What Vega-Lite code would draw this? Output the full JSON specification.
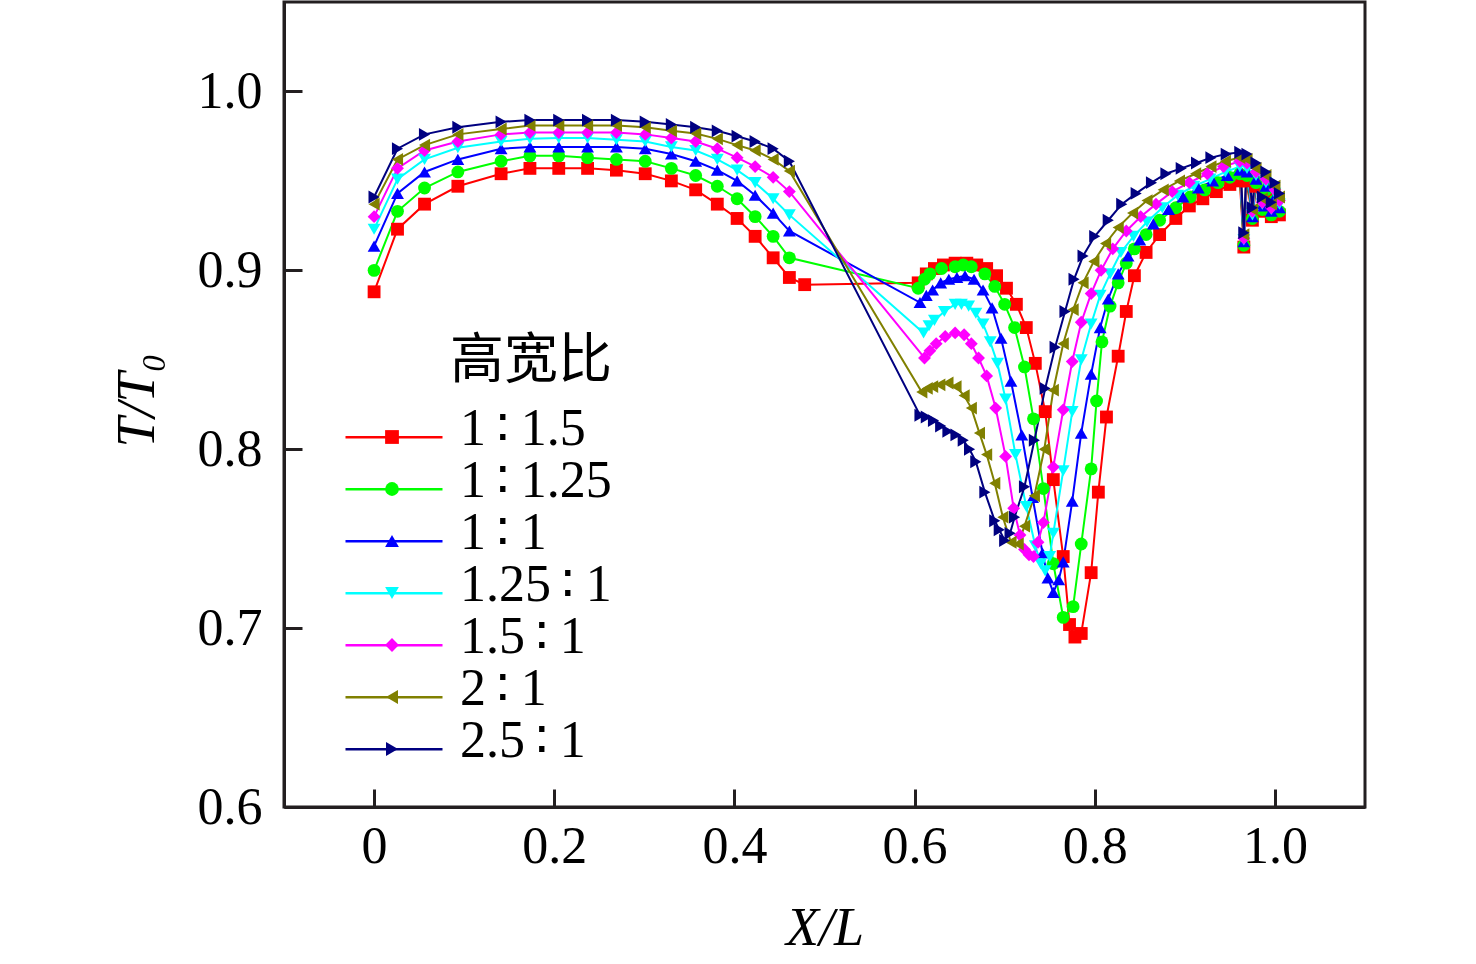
{
  "$schema": "https://vega.github.io/schema/vega-lite/v6.json",
  "width": 1081,
  "height": 805,
  "autosize": {"type": "none"},
  "padding": {"left": 284, "top": 2, "right": 111, "bottom": 157},
  "background": "white",
  "config": {
    "view": {"stroke": "#231f20", "strokeWidth": 3},
    "axis": {
      "grid": false,
      "domainColor": "#231f20",
      "domainWidth": 3,
      "tickColor": "#231f20",
      "tickWidth": 3,
      "tickSize": -18,
      "labelFont": "Liberation Serif",
      "labelFontSize": 52,
      "labelColor": "black",
      "labelFlush": false,
      "titleFont": "Liberation Serif",
      "titleFontSize": 54,
      "titleFontStyle": "italic",
      "titleFontWeight": "normal",
      "titleColor": "black"
    }
  },
  "data": {
    "values": [
      {"s":"a","x":0,"y":0.888},{"s":"a","x":0.026,"y":0.923},{"s":"a","x":0.056,"y":0.937},{"s":"a","x":0.093,"y":0.947},{"s":"a","x":0.141,"y":0.954},{"s":"a","x":0.173,"y":0.957},{"s":"a","x":0.205,"y":0.957},{"s":"a","x":0.237,"y":0.957},{"s":"a","x":0.269,"y":0.956},{"s":"a","x":0.301,"y":0.954},{"s":"a","x":0.33,"y":0.95},{"s":"a","x":0.357,"y":0.945},{"s":"a","x":0.381,"y":0.937},{"s":"a","x":0.403,"y":0.929},{"s":"a","x":0.423,"y":0.919},{"s":"a","x":0.443,"y":0.907},{"s":"a","x":0.461,"y":0.896},{"s":"a","x":0.478,"y":0.892},{"s":"a","x":0.604,"y":0.893},
      {"s":"a","x":0.613,"y":0.898},{"s":"a","x":0.622,"y":0.901},{"s":"a","x":0.632,"y":0.903},{"s":"a","x":0.645,"y":0.904},{"s":"a","x":0.658,"y":0.904},{"s":"a","x":0.669,"y":0.903},{"s":"a","x":0.68,"y":0.901},{"s":"a","x":0.691,"y":0.897},{"s":"a","x":0.702,"y":0.89},{"s":"a","x":0.713,"y":0.881},{"s":"a","x":0.724,"y":0.868},{"s":"a","x":0.734,"y":0.848},{"s":"a","x":0.745,"y":0.821},{"s":"a","x":0.754,"y":0.783},{"s":"a","x":0.765,"y":0.74},{"s":"a","x":0.772,"y":0.702},{"s":"a","x":0.778,"y":0.695},{"s":"a","x":0.785,"y":0.697},{"s":"a","x":0.796,"y":0.731},{"s":"a","x":0.804,"y":0.776},{"s":"a","x":0.813,"y":0.818},{"s":"a","x":0.826,"y":0.852},{"s":"a","x":0.835,"y":0.877},{"s":"a","x":0.844,"y":0.897},{"s":"a","x":0.857,"y":0.91},{"s":"a","x":0.872,"y":0.92},{"s":"a","x":0.89,"y":0.929},{"s":"a","x":0.905,"y":0.936},{"s":"a","x":0.92,"y":0.94},{"s":"a","x":0.935,"y":0.944},{"s":"a","x":0.95,"y":0.948},{"s":"a","x":0.961,"y":0.95},
      {"s":"a","x":0.9655,"y":0.913},{"s":"a","x":0.969,"y":0.95},{"s":"a","x":0.975,"y":0.928},{"s":"a","x":0.979,"y":0.947},{"s":"a","x":0.986,"y":0.933},{"s":"a","x":0.99,"y":0.943},{"s":"a","x":0.996,"y":0.93},{"s":"a","x":1.0,"y":0.937},{"s":"a","x":1.005,"y":0.931},

      {"s":"b","x":0,"y":0.9},{"s":"b","x":0.026,"y":0.933},{"s":"b","x":0.056,"y":0.946},{"s":"b","x":0.093,"y":0.955},{"s":"b","x":0.141,"y":0.961},{"s":"b","x":0.173,"y":0.964},{"s":"b","x":0.205,"y":0.964},{"s":"b","x":0.237,"y":0.963},{"s":"b","x":0.269,"y":0.962},{"s":"b","x":0.301,"y":0.961},{"s":"b","x":0.33,"y":0.957},{"s":"b","x":0.357,"y":0.953},{"s":"b","x":0.381,"y":0.947},{"s":"b","x":0.403,"y":0.94},{"s":"b","x":0.423,"y":0.93},{"s":"b","x":0.443,"y":0.919},{"s":"b","x":0.461,"y":0.907},
      {"s":"b","x":0.604,"y":0.89},{"s":"b","x":0.611,"y":0.895},{"s":"b","x":0.617,"y":0.898},{"s":"b","x":0.63,"y":0.901},{"s":"b","x":0.645,"y":0.902},{"s":"b","x":0.654,"y":0.903},{"s":"b","x":0.663,"y":0.902},{"s":"b","x":0.678,"y":0.898},{"s":"b","x":0.689,"y":0.891},{"s":"b","x":0.7,"y":0.881},{"s":"b","x":0.711,"y":0.868},{"s":"b","x":0.722,"y":0.846},{"s":"b","x":0.732,"y":0.817},{"s":"b","x":0.743,"y":0.778},{"s":"b","x":0.754,"y":0.736},{"s":"b","x":0.765,"y":0.706},{"s":"b","x":0.776,"y":0.712},{"s":"b","x":0.785,"y":0.747},{"s":"b","x":0.796,"y":0.789},{"s":"b","x":0.802,"y":0.827},{"s":"b","x":0.808,"y":0.86},{"s":"b","x":0.817,"y":0.88},{"s":"b","x":0.826,"y":0.893},{"s":"b","x":0.835,"y":0.904},{"s":"b","x":0.844,"y":0.912},{"s":"b","x":0.857,"y":0.92},{"s":"b","x":0.872,"y":0.928},{"s":"b","x":0.89,"y":0.935},{"s":"b","x":0.906,"y":0.941},{"s":"b","x":0.922,"y":0.945},{"s":"b","x":0.937,"y":0.949},{"s":"b","x":0.95,"y":0.952},{"s":"b","x":0.961,"y":0.954},
      {"s":"b","x":0.9655,"y":0.914},{"s":"b","x":0.969,"y":0.953},{"s":"b","x":0.975,"y":0.929},{"s":"b","x":0.979,"y":0.949},{"s":"b","x":0.986,"y":0.934},{"s":"b","x":0.99,"y":0.945},{"s":"b","x":0.996,"y":0.931},{"s":"b","x":1.0,"y":0.939},{"s":"b","x":1.005,"y":0.933},

      {"s":"c","x":0,"y":0.9135},{"s":"c","x":0.026,"y":0.943},{"s":"c","x":0.056,"y":0.955},{"s":"c","x":0.093,"y":0.962},{"s":"c","x":0.141,"y":0.968},{"s":"c","x":0.173,"y":0.969},{"s":"c","x":0.205,"y":0.969},{"s":"c","x":0.237,"y":0.969},{"s":"c","x":0.269,"y":0.969},{"s":"c","x":0.301,"y":0.968},{"s":"c","x":0.33,"y":0.965},{"s":"c","x":0.357,"y":0.961},{"s":"c","x":0.381,"y":0.956},{"s":"c","x":0.403,"y":0.95},{"s":"c","x":0.423,"y":0.942},{"s":"c","x":0.443,"y":0.932},{"s":"c","x":0.461,"y":0.922},
      {"s":"c","x":0.606,"y":0.882},{"s":"c","x":0.613,"y":0.886},{"s":"c","x":0.62,"y":0.889},{"s":"c","x":0.629,"y":0.893},{"s":"c","x":0.638,"y":0.895},{"s":"c","x":0.647,"y":0.896},{"s":"c","x":0.656,"y":0.897},{"s":"c","x":0.666,"y":0.895},{"s":"c","x":0.676,"y":0.889},{"s":"c","x":0.686,"y":0.879},{"s":"c","x":0.696,"y":0.862},{"s":"c","x":0.707,"y":0.838},{"s":"c","x":0.719,"y":0.808},{"s":"c","x":0.731,"y":0.773},{"s":"c","x":0.742,"y":0.742},{"s":"c","x":0.748,"y":0.728},{"s":"c","x":0.754,"y":0.72},{"s":"c","x":0.76,"y":0.727},{"s":"c","x":0.765,"y":0.737},{"s":"c","x":0.775,"y":0.771},{"s":"c","x":0.785,"y":0.809},{"s":"c","x":0.796,"y":0.842},{"s":"c","x":0.806,"y":0.868},{"s":"c","x":0.815,"y":0.884},{"s":"c","x":0.826,"y":0.898},{"s":"c","x":0.837,"y":0.908},{"s":"c","x":0.85,"y":0.917},{"s":"c","x":0.865,"y":0.926},{"s":"c","x":0.882,"y":0.934},{"s":"c","x":0.898,"y":0.941},{"s":"c","x":0.915,"y":0.946},{"s":"c","x":0.931,"y":0.95},{"s":"c","x":0.947,"y":0.953},{"s":"c","x":0.961,"y":0.956},
      {"s":"c","x":0.9655,"y":0.916},{"s":"c","x":0.969,"y":0.955},{"s":"c","x":0.975,"y":0.93},{"s":"c","x":0.979,"y":0.951},{"s":"c","x":0.986,"y":0.936},{"s":"c","x":0.99,"y":0.947},{"s":"c","x":0.996,"y":0.933},{"s":"c","x":1.0,"y":0.941},{"s":"c","x":1.005,"y":0.935},

      {"s":"d","x":0,"y":0.923},{"s":"d","x":0.026,"y":0.951},{"s":"d","x":0.056,"y":0.962},{"s":"d","x":0.093,"y":0.9685},{"s":"d","x":0.141,"y":0.972},{"s":"d","x":0.173,"y":0.9735},{"s":"d","x":0.205,"y":0.974},{"s":"d","x":0.237,"y":0.974},{"s":"d","x":0.269,"y":0.973},{"s":"d","x":0.301,"y":0.972},{"s":"d","x":0.33,"y":0.969},{"s":"d","x":0.357,"y":0.967},{"s":"d","x":0.381,"y":0.962},{"s":"d","x":0.403,"y":0.956},{"s":"d","x":0.423,"y":0.949},{"s":"d","x":0.443,"y":0.94},{"s":"d","x":0.461,"y":0.931},
      {"s":"d","x":0.61,"y":0.865},{"s":"d","x":0.616,"y":0.869},{"s":"d","x":0.622,"y":0.872},{"s":"d","x":0.633,"y":0.877},{"s":"d","x":0.645,"y":0.881},{"s":"d","x":0.652,"y":0.881},{"s":"d","x":0.66,"y":0.88},{"s":"d","x":0.668,"y":0.876},{"s":"d","x":0.676,"y":0.87},{"s":"d","x":0.684,"y":0.86},{"s":"d","x":0.692,"y":0.848},{"s":"d","x":0.701,"y":0.828},{"s":"d","x":0.712,"y":0.797},{"s":"d","x":0.724,"y":0.768},{"s":"d","x":0.734,"y":0.746},{"s":"d","x":0.74,"y":0.736},{"s":"d","x":0.745,"y":0.732},{"s":"d","x":0.75,"y":0.74},{"s":"d","x":0.754,"y":0.753},{"s":"d","x":0.765,"y":0.788},{"s":"d","x":0.775,"y":0.821},{"s":"d","x":0.785,"y":0.85},{"s":"d","x":0.796,"y":0.87},{"s":"d","x":0.806,"y":0.886},{"s":"d","x":0.817,"y":0.898},{"s":"d","x":0.829,"y":0.91},{"s":"d","x":0.843,"y":0.919},{"s":"d","x":0.858,"y":0.927},{"s":"d","x":0.875,"y":0.935},{"s":"d","x":0.892,"y":0.942},{"s":"d","x":0.91,"y":0.947},{"s":"d","x":0.928,"y":0.951},{"s":"d","x":0.945,"y":0.955},{"s":"d","x":0.961,"y":0.958},
      {"s":"d","x":0.9655,"y":0.917},{"s":"d","x":0.969,"y":0.957},{"s":"d","x":0.975,"y":0.931},{"s":"d","x":0.979,"y":0.953},{"s":"d","x":0.986,"y":0.937},{"s":"d","x":0.99,"y":0.949},{"s":"d","x":0.996,"y":0.934},{"s":"d","x":1.0,"y":0.943},{"s":"d","x":1.005,"y":0.937},

      {"s":"e","x":0,"y":0.93},{"s":"e","x":0.026,"y":0.957},{"s":"e","x":0.056,"y":0.967},{"s":"e","x":0.093,"y":0.972},{"s":"e","x":0.141,"y":0.976},{"s":"e","x":0.173,"y":0.977},{"s":"e","x":0.205,"y":0.977},{"s":"e","x":0.237,"y":0.977},{"s":"e","x":0.269,"y":0.977},{"s":"e","x":0.301,"y":0.976},{"s":"e","x":0.33,"y":0.974},{"s":"e","x":0.357,"y":0.972},{"s":"e","x":0.381,"y":0.968},{"s":"e","x":0.403,"y":0.963},{"s":"e","x":0.423,"y":0.958},{"s":"e","x":0.443,"y":0.952},{"s":"e","x":0.461,"y":0.944},
      {"s":"e","x":0.611,"y":0.851},{"s":"e","x":0.617,"y":0.855},{"s":"e","x":0.624,"y":0.859},{"s":"e","x":0.634,"y":0.863},{"s":"e","x":0.645,"y":0.865},{"s":"e","x":0.655,"y":0.864},{"s":"e","x":0.663,"y":0.859},{"s":"e","x":0.671,"y":0.851},{"s":"e","x":0.68,"y":0.841},{"s":"e","x":0.69,"y":0.823},{"s":"e","x":0.701,"y":0.796},{"s":"e","x":0.71,"y":0.767},{"s":"e","x":0.717,"y":0.752},{"s":"e","x":0.722,"y":0.744},{"s":"e","x":0.727,"y":0.741},{"s":"e","x":0.732,"y":0.74},{"s":"e","x":0.737,"y":0.748},{"s":"e","x":0.743,"y":0.759},{"s":"e","x":0.754,"y":0.79},{"s":"e","x":0.765,"y":0.822},{"s":"e","x":0.775,"y":0.849},{"s":"e","x":0.785,"y":0.871},{"s":"e","x":0.796,"y":0.887},{"s":"e","x":0.807,"y":0.9},{"s":"e","x":0.82,"y":0.912},{"s":"e","x":0.835,"y":0.922},{"s":"e","x":0.851,"y":0.93},{"s":"e","x":0.868,"y":0.937},{"s":"e","x":0.886,"y":0.944},{"s":"e","x":0.905,"y":0.949},{"s":"e","x":0.925,"y":0.954},{"s":"e","x":0.943,"y":0.958},{"s":"e","x":0.961,"y":0.961},
      {"s":"e","x":0.9655,"y":0.918},{"s":"e","x":0.969,"y":0.96},{"s":"e","x":0.975,"y":0.933},{"s":"e","x":0.979,"y":0.955},{"s":"e","x":0.986,"y":0.938},{"s":"e","x":0.99,"y":0.951},{"s":"e","x":0.996,"y":0.935},{"s":"e","x":1.0,"y":0.945},{"s":"e","x":1.005,"y":0.939},

      {"s":"f","x":0,"y":0.937},{"s":"f","x":0.026,"y":0.962},{"s":"f","x":0.056,"y":0.97},{"s":"f","x":0.093,"y":0.976},{"s":"f","x":0.141,"y":0.979},{"s":"f","x":0.173,"y":0.981},{"s":"f","x":0.205,"y":0.981},{"s":"f","x":0.237,"y":0.981},{"s":"f","x":0.269,"y":0.981},{"s":"f","x":0.301,"y":0.98},{"s":"f","x":0.33,"y":0.978},{"s":"f","x":0.357,"y":0.9765},{"s":"f","x":0.381,"y":0.9735},{"s":"f","x":0.403,"y":0.97},{"s":"f","x":0.423,"y":0.967},{"s":"f","x":0.443,"y":0.962},{"s":"f","x":0.461,"y":0.9555},
      {"s":"f","x":0.608,"y":0.832},{"s":"f","x":0.614,"y":0.834},{"s":"f","x":0.62,"y":0.835},{"s":"f","x":0.628,"y":0.836},{"s":"f","x":0.637,"y":0.837},{"s":"f","x":0.646,"y":0.835},{"s":"f","x":0.655,"y":0.83},{"s":"f","x":0.663,"y":0.823},{"s":"f","x":0.672,"y":0.809},{"s":"f","x":0.68,"y":0.797},{"s":"f","x":0.689,"y":0.781},{"s":"f","x":0.698,"y":0.762},{"s":"f","x":0.707,"y":0.748},{"s":"f","x":0.715,"y":0.747},{"s":"f","x":0.722,"y":0.757},{"s":"f","x":0.733,"y":0.774},{"s":"f","x":0.744,"y":0.8},{"s":"f","x":0.754,"y":0.833},{"s":"f","x":0.765,"y":0.859},{"s":"f","x":0.776,"y":0.878},{"s":"f","x":0.787,"y":0.893},{"s":"f","x":0.799,"y":0.905},{"s":"f","x":0.812,"y":0.915},{"s":"f","x":0.826,"y":0.924},{"s":"f","x":0.842,"y":0.932},{"s":"f","x":0.858,"y":0.939},{"s":"f","x":0.876,"y":0.945},{"s":"f","x":0.894,"y":0.95},{"s":"f","x":0.912,"y":0.954},{"s":"f","x":0.929,"y":0.958},{"s":"f","x":0.945,"y":0.961},{"s":"f","x":0.961,"y":0.963},
      {"s":"f","x":0.9655,"y":0.92},{"s":"f","x":0.969,"y":0.962},{"s":"f","x":0.975,"y":0.934},{"s":"f","x":0.979,"y":0.957},{"s":"f","x":0.986,"y":0.94},{"s":"f","x":0.99,"y":0.953},{"s":"f","x":0.996,"y":0.937},{"s":"f","x":1.0,"y":0.947},{"s":"f","x":1.005,"y":0.941},

      {"s":"g","x":0,"y":0.941},{"s":"g","x":0.026,"y":0.968},{"s":"g","x":0.056,"y":0.976},{"s":"g","x":0.093,"y":0.98},{"s":"g","x":0.141,"y":0.983},{"s":"g","x":0.173,"y":0.984},{"s":"g","x":0.205,"y":0.984},{"s":"g","x":0.237,"y":0.984},{"s":"g","x":0.269,"y":0.984},{"s":"g","x":0.301,"y":0.983},{"s":"g","x":0.33,"y":0.9815},{"s":"g","x":0.357,"y":0.98},{"s":"g","x":0.381,"y":0.978},{"s":"g","x":0.403,"y":0.975},{"s":"g","x":0.423,"y":0.972},{"s":"g","x":0.443,"y":0.968},{"s":"g","x":0.461,"y":0.961},
      {"s":"g","x":0.606,"y":0.819},{"s":"g","x":0.613,"y":0.818},{"s":"g","x":0.621,"y":0.816},{"s":"g","x":0.629,"y":0.813},{"s":"g","x":0.637,"y":0.81},{"s":"g","x":0.646,"y":0.808},{"s":"g","x":0.654,"y":0.805},{"s":"g","x":0.661,"y":0.8},{"s":"g","x":0.668,"y":0.793},{"s":"g","x":0.678,"y":0.776},{"s":"g","x":0.689,"y":0.76},{"s":"g","x":0.694,"y":0.755},{"s":"g","x":0.7,"y":0.749},{"s":"g","x":0.706,"y":0.753},{"s":"g","x":0.711,"y":0.762},{"s":"g","x":0.722,"y":0.779},{"s":"g","x":0.733,"y":0.805},{"s":"g","x":0.745,"y":0.834},{"s":"g","x":0.756,"y":0.857},{"s":"g","x":0.767,"y":0.877},{"s":"g","x":0.777,"y":0.895},{"s":"g","x":0.787,"y":0.908},{"s":"g","x":0.8,"y":0.919},{"s":"g","x":0.815,"y":0.928},{"s":"g","x":0.83,"y":0.937},{"s":"g","x":0.846,"y":0.943},{"s":"g","x":0.863,"y":0.949},{"s":"g","x":0.879,"y":0.954},{"s":"g","x":0.896,"y":0.957},{"s":"g","x":0.913,"y":0.96},{"s":"g","x":0.929,"y":0.963},{"s":"g","x":0.946,"y":0.965},{"s":"g","x":0.961,"y":0.966},
      {"s":"g","x":0.9655,"y":0.921},{"s":"g","x":0.969,"y":0.965},{"s":"g","x":0.975,"y":0.935},{"s":"g","x":0.979,"y":0.96},{"s":"g","x":0.986,"y":0.941},{"s":"g","x":0.99,"y":0.955},{"s":"g","x":0.996,"y":0.938},{"s":"g","x":1.0,"y":0.949},{"s":"g","x":1.005,"y":0.943}
    ]
  },
  "layer": [
    {
      "mark": {"type": "line", "strokeWidth": 2},
      "encoding": {
        "x": {
          "field": "x", "type": "quantitative",
          "scale": {"domain": [-0.1, 1.1], "nice": false, "zero": false},
          "axis": {
            "title": "X/L",
            "values": [0, 0.2, 0.4, 0.6, 0.8, 1],
            "labelExpr": "datum.value == 0 ? '0' : format(datum.value, '.1f')",
            "labelPadding": 32,
            "titleY": 121,
            "titleBaseline": "middle"
          }
        },
        "y": {
          "field": "y", "type": "quantitative",
          "scale": {"domain": [0.6, 1.05], "nice": false, "zero": false},
          "axis": {
            "title": "T/T₀",
            "values": [0.6, 0.7, 0.8, 0.9, 1],
            "format": ".1f",
            "labelPadding": 40,
            "titleX": -147,
            "titleY": 398,
            "titleAngle": -90,
            "titleBaseline": "middle"
          }
        },
        "stroke": {
          "field": "s", "type": "nominal",
          "scale": {
            "domain": ["a", "b", "c", "d", "e", "f", "g"],
            "range": ["#ff0000", "#00ff00", "#0000ff", "#00ffff", "#ff00ff", "#808000", "#000080"]
          },
          "legend": {
            "orient": "none",
            "legendX": 60,
            "legendY": 333,
            "title": "高宽比",
            "titleFont": "Noto Sans CJK SC",
            "titleFontSize": 54,
            "titleFontWeight": "normal",
            "titleColor": "black",
            "titleAnchor": "end",
            "titlePadding": 14,
            "symbolType": "M-1,0.17H1",
            "symbolSize": 9409,
            "symbolStrokeWidth": 2.5,
            "labelFont": "Liberation Serif",
            "labelFontSize": 52,
            "labelColor": "black",
            "labelOffset": 16,
            "labelLimit": 400,
            "clipHeight": 52,
            "rowPadding": 0,
            "padding": 0,
            "labelExpr": "datum.label == 'a' ? '1\u2009∶\u20091.5' : datum.label == 'b' ? '1\u2009∶\u20091.25' : datum.label == 'c' ? '1\u2009∶\u20091' : datum.label == 'd' ? '1.25\u2009∶\u20091' : datum.label == 'e' ? '1.5\u2009∶\u20091' : datum.label == 'f' ? '2\u2009∶\u20091' : '2.5\u2009∶\u20091'"
          }
        }
      }
    },
    {
      "mark": {"type": "point", "filled": true, "size": 165, "opacity": 1},
      "encoding": {
        "x": {"field": "x", "type": "quantitative"},
        "y": {"field": "y", "type": "quantitative"},
        "fill": {
          "field": "s", "type": "nominal",
          "scale": {"range": ["#ff0000", "#00ff00", "#0000ff", "#00ffff", "#ff00ff", "#808000", "#000080"]},
          "legend": {
            "orient": "none",
            "legendX": 82,
            "legendY": 409,
            "title": null,
            "symbolSize": 190,
            "symbolStrokeWidth": 0,
            "labelFontSize": 52,
            "labelExpr": "''",
            "clipHeight": 52,
            "rowPadding": 0,
            "padding": 0
          }
        },
        "shape": {
          "field": "s", "type": "nominal",
          "scale": {"range": ["square", "circle", "triangle-up", "triangle-down", "diamond", "triangle-left", "triangle-right"]},
          "legend": {
            "orient": "none",
            "legendX": 82,
            "legendY": 409,
            "title": null,
            "symbolSize": 190,
            "symbolStrokeWidth": 0,
            "labelFontSize": 52,
            "labelExpr": "''",
            "clipHeight": 52,
            "rowPadding": 0,
            "padding": 0
          }
        }
      }
    }
  ]
}
